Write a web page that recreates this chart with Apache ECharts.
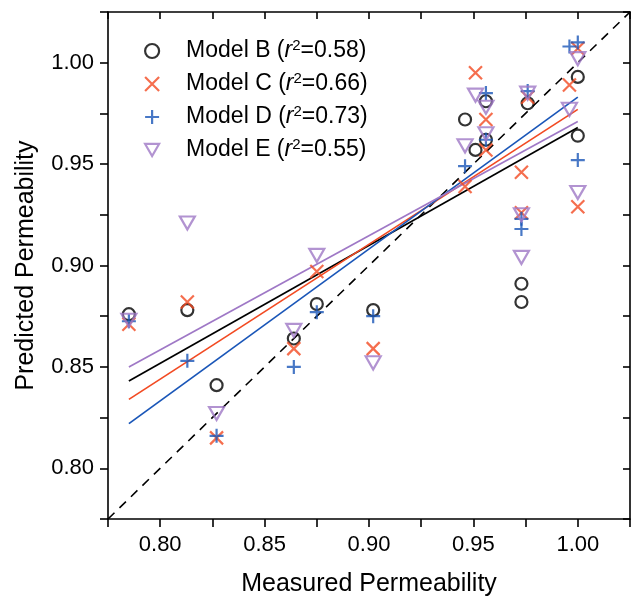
<!DOCTYPE html>
<html>
<head>
<meta charset="utf-8">
<script src="https://cdn.jsdelivr.net/npm/echarts@6/dist/echarts.min.js"></script>
<style>
html,body{margin:0;padding:0;background:#fff;}
#chart{width:633px;height:602px;}
</style>
</head>
<body>
<div id="chart"></div>
<script>
// ---- data ----
const modelNames = ['Model B', 'Model C', 'Model D', 'Model E'];
const r2Values = ['0.58', '0.66', '0.73', '0.55'];

const measuredB = [0.785, 0.813, 0.827, 0.864, 0.875, 0.902, 0.946, 0.951, 0.956, 0.956, 0.973, 0.973, 0.976, 1.000, 1.000];
const predictedB = [0.876, 0.878, 0.841, 0.864, 0.881, 0.878, 0.972, 0.957, 0.981, 0.962, 0.891, 0.882, 0.980, 0.993, 0.964];

const measuredC = [0.785, 0.813, 0.827, 0.864, 0.875, 0.902, 0.946, 0.951, 0.956, 0.956, 0.973, 0.973, 0.976, 0.996, 1.000, 1.000];
const predictedC = [0.871, 0.882, 0.815, 0.859, 0.897, 0.859, 0.939, 0.995, 0.972, 0.957, 0.946, 0.926, 0.983, 0.989, 1.007, 0.929];

const measuredD = [0.785, 0.813, 0.827, 0.864, 0.875, 0.902, 0.946, 0.956, 0.956, 0.973, 0.973, 0.976, 0.996, 1.000, 1.000];
const predictedD = [0.8725, 0.853, 0.816, 0.850, 0.877, 0.875, 0.949, 0.985, 0.962, 0.923, 0.918, 0.986, 1.008, 1.010, 0.952];

const measuredE = [0.785, 0.813, 0.827, 0.864, 0.875, 0.902, 0.946, 0.951, 0.956, 0.956, 0.973, 0.973, 0.976, 0.996, 1.000, 1.000];
const predictedE = [0.873, 0.921, 0.827, 0.868, 0.905, 0.852, 0.959, 0.984, 0.978, 0.965, 0.925, 0.904, 0.985, 0.977, 1.002, 0.936];

// linear fit end points (x = 0.785 and x = 1.00)
const fitX = [0.785, 1.000];
const fitB = [0.843, 0.968];
const fitC = [0.834, 0.977];
const fitD = [0.822, 0.983];
const fitE = [0.850, 0.971];

const identityLine = [0.775, 1.025];
const axisMin = 0.775, axisMax = 1.025, axisStep = 0.025;

// ---- styles ----
const colors = ['#000000', '#f24a22', '#1a56b8', '#9f78c6'];
const symbols = [
  'circle',
  'path://M0,0L10,10M10,0L0,10',
  'path://M5,0L5,10M0,5L10,5',
  'path://M0,0L10,0L5,8.66Z'
];
const symbolSizes = [12, 13, 14, [15, 13]];
const FONT = '"Liberation Sans", Arial, sans-serif';

function zip(xs, ys) { return xs.map((x, i) => [x, ys[i]]); }
const measured = [measuredB, measuredC, measuredD, measuredE];
const predicted = [predictedB, predictedC, predictedD, predictedE];
const fits = [fitB, fitC, fitD, fitE];

function labelFmt(v) {
  const k = v / 0.05;
  return Math.abs(k - Math.round(k)) < 1e-6 ? v.toFixed(2) : '';
}

const axisLineStyle = { color: '#000', width: 1.6 };

const series = [];
series.push({
  name: 'identity', type: 'line', data: zip(identityLine, identityLine),
  showSymbol: false, symbol: 'none', silent: true,
  lineStyle: { color: '#000', width: 1.6, type: [9, 7] }, z: 1
});
fits.forEach((f, i) => {
  series.push({
    name: 'fit ' + modelNames[i], type: 'line', data: zip(fitX, f),
    symbol: 'none', silent: true,
    lineStyle: { color: colors[i], width: 1.7 }, z: 2
  });
});
modelNames.forEach((n, i) => {
  series.push({
    name: n, type: 'scatter', data: zip(measured[i], predicted[i]),
    symbol: symbols[i], symbolSize: symbolSizes[i],
    itemStyle: { color: 'transparent', borderColor: colors[i], borderWidth: 2.2 },
    z: 3
  });
});

const option = {
  animation: false,
  backgroundColor: '#fff',
  grid: { left: 108, right: 1, top: 12, bottom: 81, containLabel: false },
  legend: {
    orient: 'vertical', left: 139, top: 33,
    itemWidth: 14, itemHeight: 14, itemGap: 7,
    data: modelNames.map((n, i) => ({
      name: n, icon: symbols[i],
      itemStyle: { color: 'transparent', borderColor: colors[i], borderWidth: 2.2 }
    })),
    formatter: function (name) {
      const i = modelNames.indexOf(name);
      return name + ' ({i|r}{s|2}=' + r2Values[i] + ')';
    },
    textStyle: {
      fontFamily: FONT, fontSize: 23, color: '#000', lineHeight: 26,
      padding: [0, 0, 0, 22],
      rich: {
        i: { fontFamily: FONT, fontSize: 23, fontStyle: 'italic', color: '#000', lineHeight: 26 },
        s: { fontFamily: FONT, fontSize: 15, color: '#000', verticalAlign: 'top', lineHeight: 15 }
      }
    }
  },
  xAxis: [{
    type: 'value', min: axisMin, max: axisMax, interval: axisStep, position: 'bottom',
    name: 'Measured Permeability', nameLocation: 'middle', nameGap: 53,
    nameTextStyle: { fontFamily: FONT, fontSize: 25, color: '#000' },
    axisLine: { show: true, onZero: false, lineStyle: axisLineStyle },
    axisTick: { show: true, inside: false, length: 8, lineStyle: axisLineStyle },
    axisLabel: { formatter: labelFmt, fontFamily: FONT, fontSize: 22, color: '#000', margin: 15 },
    splitLine: { show: false }
  }, {
    type: 'value', min: axisMin, max: axisMax, interval: axisStep, position: 'top',
    axisLine: { show: true, onZero: false, lineStyle: axisLineStyle },
    axisTick: { show: true, inside: true, length: 7, lineStyle: axisLineStyle },
    axisLabel: { show: false }, splitLine: { show: false }
  }],
  yAxis: [{
    type: 'value', min: axisMin, max: axisMax, interval: axisStep, position: 'left',
    name: 'Predicted Permeability', nameLocation: 'middle', nameGap: 69, nameRotate: 90,
    nameTextStyle: { fontFamily: FONT, fontSize: 25, color: '#000' },
    axisLine: { show: true, onZero: false, lineStyle: axisLineStyle },
    axisTick: { show: true, inside: false, length: 8, lineStyle: axisLineStyle },
    axisLabel: { formatter: labelFmt, fontFamily: FONT, fontSize: 22, color: '#000', margin: 14 },
    splitLine: { show: false }
  }, {
    type: 'value', min: axisMin, max: axisMax, interval: axisStep, position: 'right',
    axisLine: { show: true, onZero: false, lineStyle: axisLineStyle },
    axisTick: { show: true, inside: true, length: 7, lineStyle: axisLineStyle },
    axisLabel: { show: false }, splitLine: { show: false }
  }],
  series: series
};

const chart = echarts.init(document.getElementById('chart'), null, { renderer: 'canvas' });
chart.setOption(option);
</script>
</body>
</html>
